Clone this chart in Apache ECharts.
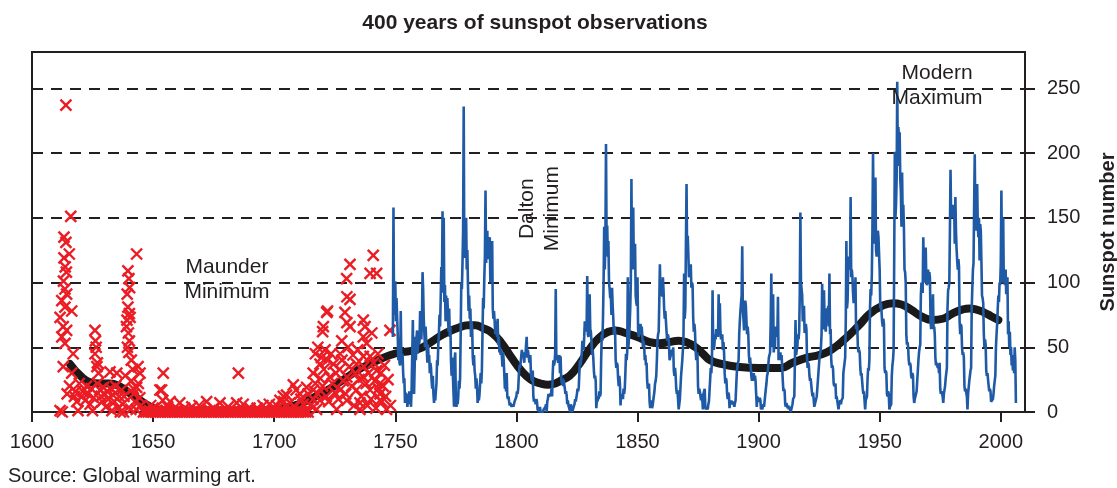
<!DOCTYPE html>
<html><head><meta charset="utf-8">
<script src="https://cdn.jsdelivr.net/npm/echarts@6/dist/echarts.min.js"></script>
<style>html,body{margin:0;padding:0;background:#fff}#c{width:1117px;height:488px}</style>
</head><body><div id="c"></div><script>
const titleText = '400 years of sunspot observations';
const sourceText = 'Source: Global warming art.';
const yAxisName = 'Sunspot number';
const xMin = 1600, xMax = 2010, xStep = 50;
const yMin = 0, yMax = 278, yStep = 50;

// Early telescopic observations (red crosses): [year, sunspot number]
const groupObs = [
 [1614.0,237],[1616.0,151],[1613.2,135],[1614.0,131],[1615.4,122],[1613.2,119],[1613.7,112],[1614.2,108],
 [1613.0,101],[1613.6,95],[1614.3,91],[1612.3,86],[1613.6,81],[1616.4,78],[1611.6,73],[1612.9,66],
 [1614.3,63],[1612.3,58],[1613.6,53],[1617.0,45],[1612.9,35],[1616.4,30],[1611.6,1],[1612.5,0],
 [1614.5,14],[1615.5,20],[1617.5,12],[1618.5,8],[1619,1],[1618,16],[1619.5,22],
 [1620.5,12],[1621,16],[1622,9],[1622.5,20],[1623,14],[1624,6],[1624.5,18],[1625,1],[1625.5,11],
 [1626,63],[1626.2,55],[1626.5,50],[1626,45],[1627,38],[1626.8,35],[1627.5,30],[1627,22],[1628,17],
 [1628.5,12],[1629,8],[1629.5,19],[1630,14],[1630.5,4],[1631,16],[1631.5,10],[1632.2,31],[1632.5,18],
 [1633,1],[1633.5,13],[1634,8],[1634.5,20],[1635,30],[1635.5,3],[1636,12],[1636.5,0],[1637,17],[1637.5,6],
 [1639.6,109],[1640,103],[1640.3,96],[1639.3,91],[1643.2,122],[1639.6,81],[1640.2,76],[1639.2,71],
 [1640.5,73],[1639.0,66],[1639.8,61],[1640.2,55],[1639.4,50],[1640.0,46],[1641,40],[1641.5,33],
 [1638.5,28],[1641,24],[1643.8,35],[1644.6,30],[1643.2,19],[1643.9,22],[1642,14],[1642.5,8],[1643,2],
 [1644.5,11],[1645,5],[1638,12],[1637.8,0],[1640.8,2],[1641.8,18],
 [1646,0],[1647,0],[1648,0],[1649,0],[1650,0],[1651,0],[1652,0],[1653,0],[1654,0],[1655,0],[1656,0],
 [1657,0],[1658,0],[1659,0],[1660,0],[1661,0],[1662,0],[1663,0],[1664,0],[1665,0],[1666,0],[1667,0],
 [1668,0],[1669,0],[1670,0],[1671,0],[1672,0],[1673,0],[1674,0],[1675,0],[1676,0],[1677,0],[1678,0],
 [1679,0],[1680,0],[1681,0],[1682,0],[1683,0],[1684,0],[1685,0],[1686,0],[1687,0],[1688,0],[1689,0],
 [1690,0],[1691,0],[1692,0],[1693,0],[1694,0],[1695,0],[1696,0],[1697,0],[1698,0],[1699,0],[1700,0],
 [1701,0],[1702,0],[1703,0],[1704,0],[1705,0],[1706,0],[1707,0],[1708,0],[1709,0],[1710,0],[1711,0],
 [1712,0],[1713,0],[1714,0],
 [1646.5,1],[1648.5,1],[1651.5,1],[1655.5,1],[1659.5,1],[1664.5,1],[1668.5,1],[1673.5,1],[1678.5,1],
 [1683.5,1],[1688.5,1],[1692.5,1],[1697.5,1],[1702.5,1],[1706.5,1],[1710.5,1],
 [1653.5,17],[1654.2,30],[1652.8,17],[1654,9],[1657,8],[1661,7],[1666,4],[1672.1,8],[1677.6,7],
 [1684.5,7],[1685.2,30],[1687.2,6],[1695.4,5],[1690,3],[1698,6],[1702.4,9],[1705.1,13],[1707.9,21],
 [1710.6,14],[1713.4,19],[1703.8,12],[1706.5,7],[1708.5,4],[1711,10],[1712,6],[1714,14],[1700,3],
 [1701,5],[1704,8],[1709,17],[1649,5],[1650,3],[1656,4],[1663,3],[1669,5],[1675,3],[1681,4],[1693,3],
 [1740.9,121],[1731.3,114],[1729.9,103],[1739.6,107],[1742.3,107],[1730,89],[1731.3,87],[1721.7,77],
 [1729.2,77],[1720.3,66],[1730,69],[1731.3,66],[1736.8,71],[1737.5,66],[1740.3,61],[1727.9,55],
 [1736.8,58],[1738.2,53],[1721,48],[1727.2,45],[1736.8,43],[1739.6,43],[1718.9,37],[1724.4,37],
 [1734,37],[1742.3,32],[1716.1,30],[1723,27],[1730,27],[1736.8,27],[1743.7,22],[1716.1,17],
 [1727.2,17],[1734,17],[1739.6,17],[1743.7,14],[1718.9,9],[1730,9],[1735.4,7],[1743.7,9],
 [1746.4,2],[1735.4,2],[1725.8,2],[1717.5,2],[1747.8,63],
 [1715,5],[1716,10],[1717,22],[1718,14],[1719,26],[1720,20],[1720.5,33],[1721.5,12],[1722,40],
 [1722.5,8],[1723.5,45],[1724,22],[1725,15],[1725.5,30],[1726.5,10],[1727,33],[1728,40],[1728.5,24],
 [1729.5,14],[1730.5,50],[1731,35],[1732,20],[1732.5,44],[1733,5],[1733.5,30],[1734.5,48],[1735,25],
 [1736,12],[1737,35],[1738,22],[1738.5,5],[1739,30],[1740,10],[1741,38],[1741.5,24],[1742,3],
 [1742.8,45],[1743,18],[1744,30],[1744.5,8],[1745,20],[1745.5,36],[1746,12],[1747,25],[1748,5],
 [1718,50],[1719.5,42],[1717,45],[1720,62],[1722,78]
];

// Sunspot numbers from 1749 onward, four readings per year (blue line)
const seriesStartYear = 1749;
const readingsPerYear = 4;
const sunspotValues = [
 58,158,75,95, 101,70,88,74, 60,40,52,38, 36,78,40,37, 45,30,22,26, 7,15,12,14, 4,10,8,16, 6,12,4,19,
 20,71,25,14, 35,58,40,57, 63,45,56,52, 55,78,62,56, 70,108,95,72, 73,50,66,56, 48,38,52,42, 44,30,38,34,
 24,18,28,14, 7,14,9,16, 22,40,36,52, 60,75,66,88, 112,95,155,92, 150,85,98,70, 90,72,88,76, 62,80,58,66,
 40,28,42,30, 30,4,40,46, 10,4,8,6, 12,24,18,26, 60,100,95,115, 140,236,119,125, 119,150,110,125, 99,78,90,72,
 80,58,70,64, 42,36,44,32, 28,18,26,20, 7,12,9,13, 14,30,22,32, 60,88,80,103, 120,171,115,130, 140,118,135,130,
 135,100,120,118, 132,80,72,78, 71,60,66,70, 58,72,52,58, 46,50,44,48, 43,35,46,40, 30,18,22,16, 30,12,10,12,
 8,5,7,6, 4,3,6,4, 5,8,7,8, 12,16,14,18, 28,36,34,38, 43,48,44,46, 43,38,46,44, 52,58,42,48,
 48,40,38,44, 30,26,24,32, 12,8,10,10, 6,10,8,2, 2,3,0,4, 0,0,0,0, 0,2,1,3, 4,6,0,8,
 10,14,12,13, 14,12,18,12, 30,40,36,38, 45,95,40,44, 43,38,40,44, 30,43,26,22, 26,20,25,24, 18,14,16,13,
 6,9,5,6, 4,0,6,3, 0,1,3,2, 6,10,8,9, 14,18,16,19, 30,40,36,40, 45,55,50,48, 58,70,66,62,
 66,105,60,58, 70,91,64,62, 55,44,48,42, 32,26,28,24, 3,10,8,12, 10,16,12,14, 40,60,55,72, 100,143,110,130,
 207,130,144,120, 132,100,95,88, 90,75,96,82, 73,60,66,62, 40,34,38,36, 26,20,28,22, 5,14,10,12, 10,18,14,18,
 30,45,40,46, 104,50,58,66, 80,100,180,110, 120,158,110,112, 130,90,85,82, 104,64,58,60, 63,68,62,66, 58,50,55,52,
 40,44,36,38, 24,18,20,22, 8,3,6,9, 3,5,4,6, 16,22,24,28, 40,55,60,62, 85,114,90,92, 98,89,104,94,
 80,72,78,78, 62,55,60,58, 53,40,42,42, 46,48,44,50, 32,28,34,28, 18,14,17,16, 2,6,10,11, 28,34,40,48,
 60,107,72,80, 130,176,120,136, 122,104,110,108, 114,96,100,98, 73,62,68,62, 48,40,44,46, 20,14,18,16, 12,9,14,10,
 2,14,16,18, 4,2,4,3, 2,6,8,8, 25,34,30,40, 94,50,48,52, 60,56,64,58, 62,58,91,60, 84,62,56,56,
 60,48,54,46, 30,22,26,24, 14,10,15,13, 3,8,6,9, 6,5,8,6, 4,7,9,8, 30,35,38,40, 60,70,78,84,
 90,128,80,72, 63,80,86,82, 70,60,66,60, 44,38,42,42, 28,24,27,26, 30,24,28,24, 14,4,12,10, 10,8,11,9,
 2,4,2,3, 6,4,5,5, 18,22,28,30, 36,42,44,46, 70,107,55,50, 91,46,52,50, 66,58,62,60, 89,40,44,42,
 46,40,44,44, 24,16,18,16, 6,4,7,6, 3,5,2,4, 2,0,2,2, 6,10,10,12, 40,71,44,48, 50,60,56,62,
 90,154,100,100, 90,70,80,82, 61,60,68,64, 42,34,38,36, 28,24,26,26, 16,12,15,14, 4,6,7,6, 12,18,17,19,
 38,44,46,50, 60,99,66,64, 94,70,66,62, 76,80,74,82, 66,107,60,64, 40,34,36,33, 22,20,21,22, 10,12,11,11,
 2,6,6,9, 6,9,8,11, 30,34,38,42, 70,132,80,86, 110,120,118,110, 166,104,110,104, 92,84,90,88, 104,64,68,66,
 50,46,48,46, 34,28,30,30, 18,14,16,17, 2,9,10,12, 26,34,32,40, 80,95,90,105, 140,200,150,140, 130,181,125,120,
 130,140,135,134, 109,80,84,78, 70,66,72,68, 34,30,32,30, 14,12,16,14, 2,4,5,6, 28,36,40,48, 120,201,150,160,
 180,255,190,220, 200,216,180,170, 143,185,150,160, 143,110,108,100, 60,52,54,50, 40,36,38,36, 28,26,30,28, 12,7,10,11,
 14,16,15,16, 40,46,50,52, 90,100,96,92, 135,110,100,104, 127,104,98,100, 110,100,108,104, 70,64,68,66, 91,64,66,60,
 42,36,38,36, 34,36,30,38, 18,14,16,14, 12,7,14,13, 20,26,30,34, 80,94,96,100, 140,187,150,160, 150,160,150,158,
 130,166,140,126, 117,110,118,112, 70,60,68,66, 50,44,46,42, 20,16,18,17, 12,2,14,14, 24,28,32,34, 80,96,110,115,
 160,199,150,160, 140,176,145,135, 150,117,145,140, 117,90,88,84, 60,50,56,52, 32,28,30,29, 20,16,18,16, 8,7,9,10,
 14,20,24,28, 50,60,68,80, 90,85,100,98, 115,171,120,100, 150,100,106,98, 110,91,100,104, 60,70,50,62, 44,50,36,42,
 32,44,30,50, 40,7
];

// Long-term smoothed sunspot number (black line): [year, value]
const smoothed = [
 [1615.7,37],[1620,28],[1624,23],[1628,22],[1632,22],[1636,20],[1640,15],[1644,10],[1648,5],[1652,2],
 [1660,1],[1670,1],[1680,1],[1690,1],[1700,2],[1706,4],[1710,6],[1714,9],[1718,13],[1723,18],[1727,23],
 [1731,28],[1735,33],[1739.5,37],[1744,41],[1748,44],[1752,46],[1756,47],[1760,49],[1764,53],[1768,58],
 [1772,62],[1776,65],[1780,67],[1783,67],[1786,65],[1790,61],[1794,53],[1798,42],[1802,32],[1806,25],
 [1810,22],[1813,21],[1816,22],[1818,24],[1822,28],[1826,37],[1830,48],[1834,57],[1838,62],[1841,63],
 [1845,61],[1850,58],[1855,54],[1859,53],[1863,54],[1867,55],[1870,54],[1874,50],[1877,45],[1880,40],
 [1885,37],[1891,35],[1900,34],[1905,34],[1909,34],[1914,38],[1920,42],[1925,44],[1930,48],[1936,57],
 [1941,66],[1946,76],[1951,82],[1955.5,84],[1959,83],[1963,79],[1967,74],[1972,71],[1976,72],[1980,76],
 [1984,79],[1987,80],[1990,79],[1993,77],[1996,74],[1999,71]
];

const annotations = [
 {text:'Maunder\nMinimum', year:1680.5, value:102, rotate:0},
 {text:'Dalton\nMinimum', year:1809.7, value:157, rotate:90},
 {text:'Modern\nMaximum', year:1973.7, value:252, rotate:0}
];

const FONT = 'Liberation Sans, Arial, Helvetica, sans-serif';
const INK = '#231f20';
const blueLine = sunspotValues.map((v, i) => [seriesStartYear + i / readingsPerYear, v]);

const chart = echarts.init(document.getElementById('c'), null, {renderer:'canvas'});
chart.setOption({
 animation:false,
 backgroundColor:'#ffffff',
 title:{text:titleText, left:530, top:8, textAlign:'center',
   textStyle:{fontFamily:FONT, fontSize:21, fontWeight:'bold', color:INK}},
 graphic:[{type:'text', left:8, top:466, style:{text:sourceText, font:'20px '+FONT, fill:INK}}],
 grid:{left:32, right:92, top:52, bottom:76, show:true, borderColor:INK, borderWidth:2,
   backgroundColor:'transparent', outerBoundsMode:'none', containLabel:false},
 xAxis:{type:'value', min:xMin, max:xMax, interval:xStep,
   axisLine:{show:true, lineStyle:{color:INK, width:2}},
   axisTick:{show:true, length:10, lineStyle:{color:INK, width:2}},
   axisLabel:{color:INK, fontFamily:FONT, fontSize:20, margin:20, showMaxLabel:false, formatter:v => String(v)},
   splitLine:{show:false}},
 yAxis:{type:'value', position:'right', min:yMin, max:yMax, interval:yStep,
   name:yAxisName, nameLocation:'middle', nameRotate:90, nameGap:73,
   nameTextStyle:{fontFamily:FONT, fontSize:20, fontWeight:'bold', color:INK},
   axisLine:{show:true, lineStyle:{color:INK, width:2}},
   axisTick:{show:true, length:10, lineStyle:{color:INK, width:2}},
   axisLabel:{color:INK, fontFamily:FONT, fontSize:20, margin:22, showMaxLabel:false, formatter:v => String(v)},
   splitLine:{show:true, lineStyle:{color:INK, width:2, type:[11,8]}}},
 series:[
  {type:'line', data:smoothed, smooth:true, showSymbol:false, z:2,
   lineStyle:{color:'#1a1a1a', width:8, cap:'round'}},
  {type:'scatter', data:groupObs, z:3, symbol:'path://M0,0L10,10M10,0L0,10', symbolSize:11,
   itemStyle:{color:'none', borderColor:'#ec1c24', borderWidth:2.4, opacity:1}},
  {type:'line', data:blueLine, showSymbol:false, z:4,
   lineStyle:{color:'#1f5aa6', width:2.6}},
  {type:'scatter', z:5, symbolSize:1, itemStyle:{color:'rgba(0,0,0,0)', opacity:1},
   data:annotations.map(a => ({value:[a.year, a.value], label:{rotate:a.rotate}, name:a.text})),
   label:{show:true, position:'inside', formatter:p => p.name, color:INK, fontFamily:FONT, fontSize:21, lineHeight:25, align:'center', verticalAlign:'middle'}}
 ]
});
</script></body></html>
